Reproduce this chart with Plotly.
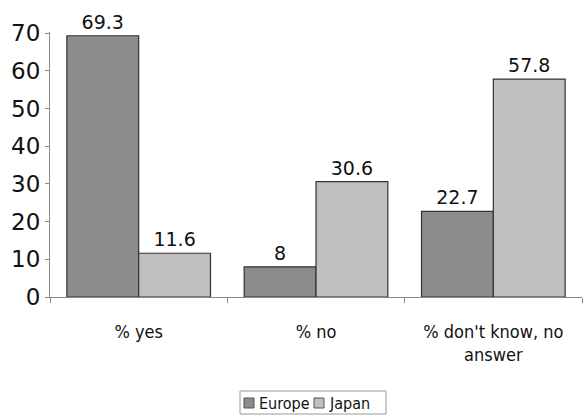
import plotly.graph_objects as go

categories = ["% yes", "% no", "% don't know, no<br>answer"]
series_names = ["Europe", "Japan"]
europe = [69.3, 8, 22.7]
japan = [11.6, 30.6, 57.8]
europe_labels = ["69.3", "8", "22.7"]
japan_labels = ["11.6", "30.6", "57.8"]
y_ticks = [0, 10, 20, 30, 40, 50, 60, 70]

FONT = "DejaVu Sans Condensed, Liberation Sans Narrow, Liberation Sans, Arial"
NUMFONT = "DejaVu Sans, Liberation Sans, Arial"
COLORS = ["#8c8c8c", "#c0c0c0"]

L, R, T, B, W, H = 50, 5, 32, 118, 587, 415
PW, PH = W - L - R, H - T - B


def px(x):
    return (x - L) / PW


def py(y):
    return (H - B - y) / PH


fig = go.Figure()
for name, vals, labels, col in zip(series_names, [europe, japan],
                                   [europe_labels, japan_labels], COLORS):
    fig.add_trace(go.Bar(
        name=name, x=categories, y=vals, text=labels,
        textposition="outside", cliponaxis=False,
        marker=dict(color=col, line=dict(color="#333", width=1.2)),
        textfont=dict(size=19, color="#111", family=NUMFONT),
    ))

# manual legend below the chart
shapes = [dict(type="rect", xref="paper", yref="paper",
               x0=px(240), x1=px(386), y0=py(414), y1=py(391),
               line=dict(color="#999", width=1), fillcolor="white")]
annotations = []
item_x = [244, 314]
for name, col, x0 in zip(series_names, COLORS, item_x):
    shapes.append(dict(type="rect", xref="paper", yref="paper",
                       x0=px(x0), x1=px(x0 + 10), y0=py(408), y1=py(398),
                       line=dict(color="#555", width=1), fillcolor=col))
    annotations.append(dict(text=name, xref="paper", yref="paper",
                            x=px(x0 + 13), y=py(403), xanchor="left", yanchor="middle",
                            showarrow=False, font=dict(size=16, family=FONT, color="#111")))

fig.update_layout(
    width=W, height=H,
    margin=dict(l=L, r=R, t=T, b=B),
    paper_bgcolor="white", plot_bgcolor="white",
    barmode="group", bargap=0.19, bargroupgap=0,
    font=dict(family=FONT, color="#111"),
    showlegend=False,
    shapes=shapes, annotations=annotations,
    xaxis=dict(showline=True, linecolor="#888", linewidth=1, ticks="outside",
               tickson="boundaries", ticklen=5, tickcolor="#888",
               ticklabelstandoff=18,
               tickfont=dict(size=18, family=FONT), showgrid=False, zeroline=False),
    yaxis=dict(range=[0, 70.3], tickvals=y_ticks, showline=True,
               linecolor="#888", linewidth=1, ticks="outside", ticklen=4, tickcolor="#888",
               tickfont=dict(size=23, family=NUMFONT), showgrid=False, zeroline=False),
)

fig.write_html("out.html")
